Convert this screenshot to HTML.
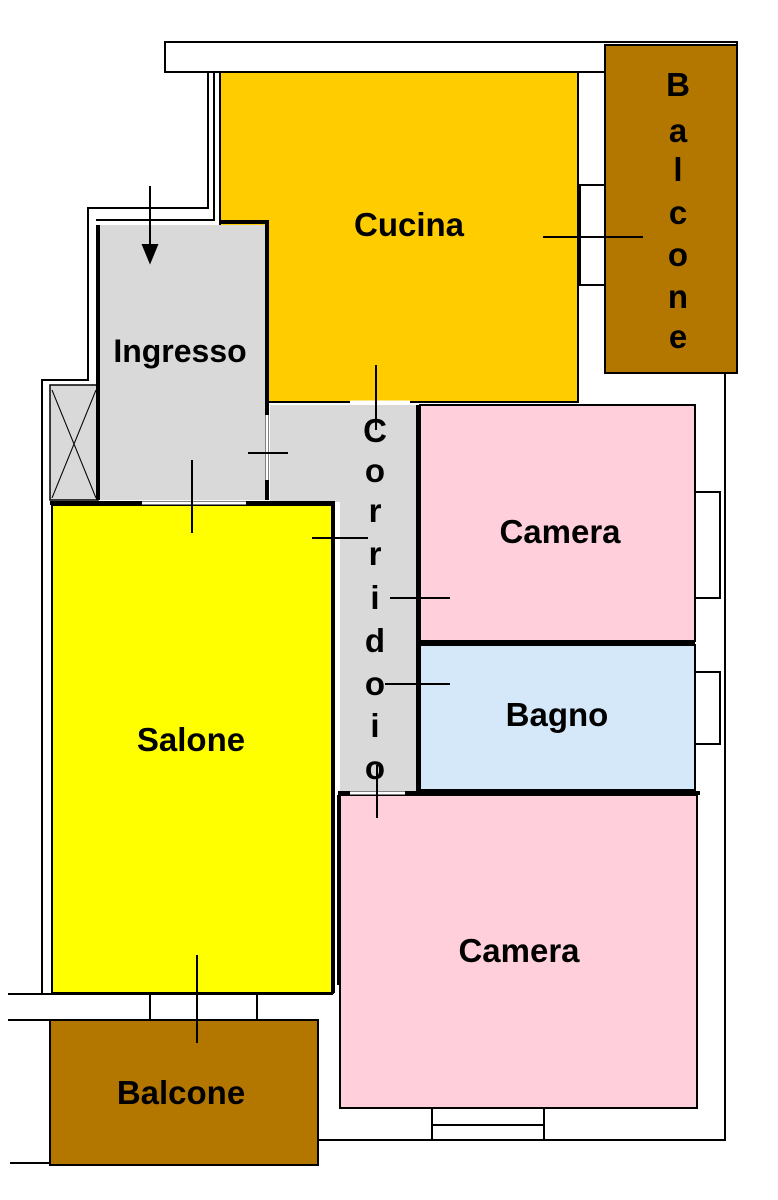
<!DOCTYPE html>
<html><head><meta charset="utf-8"><style>
html,body{margin:0;padding:0;background:#fff;}
svg{display:block}
text{font-family:"Liberation Sans",sans-serif;font-weight:bold;fill:#000}
</style></head><body>
<svg width="778" height="1200" viewBox="0 0 778 1200" xmlns="http://www.w3.org/2000/svg">
<g fill="none" stroke="#000" stroke-width="2">
<rect x="165" y="42" width="572" height="30"/>
<polyline points="208,72 208,208 88,208 88,380 42,380 42,994"/>
<polyline points="214,72 214,220 96,220"/>
<polyline points="725,372 725,1140 318,1140"/>
<polyline points="8,994 333,994"/>
<polyline points="8,1020 318,1020"/>
<line x1="10" y1="1163" x2="318" y2="1163"/>
<line x1="150" y1="994" x2="150" y2="1020"/>
<line x1="257" y1="994" x2="257" y2="1020"/>
<rect x="432" y="1108" width="112" height="32"/>
<line x1="432" y1="1125" x2="544" y2="1125"/>
<rect x="695" y="492" width="25" height="106"/>
<rect x="695" y="672" width="25" height="72"/>
<rect x="580" y="185" width="25" height="100"/>
<line x1="338" y1="795" x2="338" y2="985"/>
</g>
<rect x="220" y="72" width="358" height="330" fill="#FFCC00" stroke="#000" stroke-width="2"/>
<rect x="605" y="45" width="132" height="328" fill="#B37700" stroke="#000" stroke-width="2"/>
<rect x="98" y="225" width="169" height="275" fill="#D9D9D9"/>
<rect x="270" y="405" width="146" height="97" fill="#D9D9D9"/>
<rect x="340" y="500" width="76" height="295" fill="#D9D9D9"/>
<rect x="50" y="385" width="48" height="115" fill="#D9D9D9" stroke="#000" stroke-width="1.5"/>
<line x1="52" y1="390" x2="96" y2="498" stroke="#000"/>
<line x1="96" y1="390" x2="52" y2="498" stroke="#000"/>
<rect x="420" y="405" width="275" height="236" fill="#FFD0DC" stroke="#000" stroke-width="2"/>
<rect x="420" y="645" width="275" height="145" fill="#D5E8FA" stroke="#000" stroke-width="2"/>
<rect x="340" y="795" width="357" height="313" fill="#FFD0DC" stroke="#000" stroke-width="2"/>
<rect x="52" y="505" width="281" height="488" fill="#FFFF00" stroke="#000" stroke-width="2"/>
<rect x="50" y="1020" width="268" height="145" fill="#B37700" stroke="#000" stroke-width="2"/>
<g stroke="#000" stroke-width="4" fill="none">
<polyline points="220,222 267,222 267,500"/>
<line x1="50" y1="503" x2="335" y2="503"/>
<line x1="418" y1="405" x2="418" y2="795"/>
<line x1="418" y1="643" x2="695" y2="643"/>
<line x1="338" y1="793" x2="700" y2="793"/>
<line x1="333" y1="503" x2="333" y2="993"/>
<line x1="98" y1="225" x2="98" y2="500"/>
</g>
<g stroke="#fff" stroke-width="3">
<line x1="142" y1="503" x2="246" y2="503"/>
<line x1="350" y1="793" x2="405" y2="793"/>
<line x1="350" y1="402" x2="410" y2="402"/>
<line x1="267" y1="415" x2="267" y2="480"/>
</g>
<g stroke="#000" stroke-width="2">
<line x1="150" y1="186" x2="150" y2="250"/>
<path d="M143,245 L150,262 L157,245 Z" fill="#000"/>
<line x1="543" y1="237" x2="643" y2="237"/>
<line x1="376" y1="365" x2="376" y2="430"/>
<line x1="248" y1="453" x2="288" y2="453"/>
<line x1="192" y1="460" x2="192" y2="533"/>
<line x1="312" y1="538" x2="368" y2="538"/>
<line x1="390" y1="598" x2="450" y2="598"/>
<line x1="385" y1="684" x2="450" y2="684"/>
<line x1="377" y1="765" x2="377" y2="818"/>
<line x1="197" y1="955" x2="197" y2="1043"/>
</g>
<text x="409" y="236" font-size="33" text-anchor="middle">Cucina</text>
<g font-size="33" text-anchor="middle">
<text x="678" y="96">B</text><text x="678" y="142">a</text><text x="678" y="181">l</text>
<text x="678" y="224">c</text><text x="678" y="266">o</text><text x="678" y="308">n</text><text x="678" y="348">e</text>
</g>
<text x="180" y="362" font-size="32" text-anchor="middle">Ingresso</text>
<g font-size="33" text-anchor="middle">
<text x="375" y="442">C</text><text x="375" y="482">o</text><text x="375" y="522">r</text><text x="375" y="565">r</text>
<text x="375" y="609">i</text><text x="375" y="652">d</text><text x="375" y="695">o</text><text x="375" y="737">i</text><text x="375" y="779">o</text>
</g>
<text x="560" y="543" font-size="33" text-anchor="middle">Camera</text>
<text x="557" y="726" font-size="33" text-anchor="middle">Bagno</text>
<text x="191" y="751" font-size="33" text-anchor="middle">Salone</text>
<text x="519" y="962" font-size="33" text-anchor="middle">Camera</text>
<text x="181" y="1104" font-size="33" text-anchor="middle">Balcone</text>
</svg>
</body></html>
